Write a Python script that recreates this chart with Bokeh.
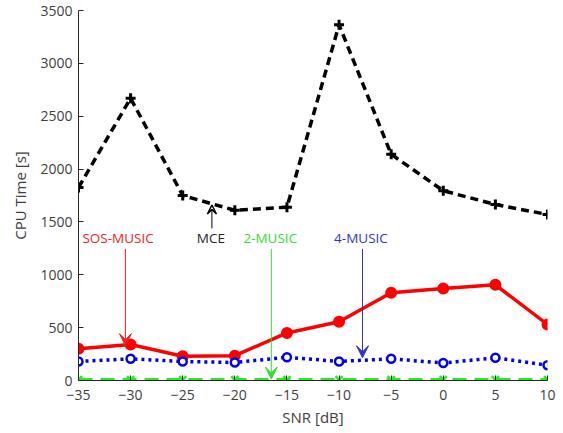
from bokeh.plotting import figure
from bokeh.models import Range1d, Arrow, VeeHead, Label, FixedTicker
from bokeh.embed import file_html
from bokeh.resources import INLINE

snr = [-35, -30, -25, -20, -15, -10, -5, 0, 5, 10]
mce = [1825, 2670, 1750, 1610, 1640, 3365, 2140, 1795, 1665, 1570]
sos_music = [300, 340, 230, 235, 450, 555, 830, 870, 905, 530]
music4 = [180, 205, 180, 170, 220, 180, 205, 165, 215, 145]
music2 = [8, 8, 8, 8, 8, 8, 8, 8, 8, 8]

x_ticks = [-35, -30, -25, -20, -15, -10, -5, 0, 5, 10]
y_ticks = [0, 500, 1000, 1500, 2000, 2500, 3000, 3500]

FONT = "Open Sans"

p = figure(width=558, height=431, output_backend="svg", toolbar_location=None,
           x_range=Range1d(-35, 10), y_range=Range1d(0, 3500),
           min_border_left=78, min_border_right=11, min_border_top=10, min_border_bottom=51)
p.outline_line_color = None
p.xgrid.visible = False
p.ygrid.visible = False

for ax in (p.xaxis[0], p.yaxis[0]):
    ax.major_tick_in = 5
    ax.major_tick_out = 0
    ax.minor_tick_line_color = None
    ax.axis_line_color = "#262626"
    ax.major_tick_line_color = "#262626"
    ax.major_label_text_font = FONT
    ax.major_label_text_font_size = "14px"
    ax.major_label_text_color = "#404040"
    ax.axis_label_text_font = FONT
    ax.axis_label_text_font_size = "15px"
    ax.axis_label_text_font_style = "normal"
    ax.axis_label_text_color = "#404040"

p.xaxis.ticker = FixedTicker(ticks=x_ticks)
p.yaxis.ticker = FixedTicker(ticks=y_ticks)
p.xaxis.axis_label = "SNR [dB]"
p.yaxis.axis_label = "CPU Time [s]"
p.xaxis.major_label_standoff = 9
p.yaxis.major_label_standoff = 6
p.xaxis.axis_label_standoff = 4
p.yaxis.axis_label_standoff = 7

# MCE
p.line(snr, mce, line_color="black", line_width=3.5, line_dash="8 5")
p.scatter(snr, mce, marker="cross", size=10, line_color="black", line_width=3)

# SOS-MUSIC
p.line(snr, sos_music, line_color="#ff0000", line_width=3.5)
p.scatter(snr, sos_music, marker="circle", size=10, fill_color="#ff0000", line_color="#ff0000", line_width=2)

# 4-MUSIC
p.line(snr, music4, line_color="#0000ee", line_width=3.5, line_dash="3 4")
p.scatter(snr, music4, marker="circle", size=8, fill_color="white", line_color="#0000ee", line_width=2.5)

# 2-MUSIC
p.line(snr, music2, line_color="#22ee22", line_width=3.5, line_dash="14 8")
p.scatter(snr, music2, marker="x", size=10, line_color="#22ee22", line_width=2.5)

# annotations
ann = [
    ("SOS-MUSIC", "#ee2222", -31.2, -30.5, 1245, 330),
    ("2-MUSIC", "#33dd33", -16.6, -16.5, 1245, 15),
    ("4-MUSIC", "#3333cc", -7.9, -7.75, 1245, 215),
]
for txt, col, tx, ax_, y0, y1 in ann:
    p.add_layout(Label(x=tx, y=1350, text=txt, text_color=col, text_font=FONT,
                       text_font_size="13.5px", text_align="center", text_baseline="middle"))
    p.add_layout(Arrow(x_start=ax_, y_start=y0, x_end=ax_, y_end=y1, line_color=col, line_width=1,
                       end=VeeHead(size=12, line_color=col, fill_color=col, line_width=1)))

p.add_layout(Label(x=-22.3, y=1350, text="MCE", text_color="#262626", text_font=FONT,
                   text_font_size="13.5px", text_align="center", text_baseline="middle"))
p.add_layout(Arrow(x_start=-22.2, y_start=1440, x_end=-22.2, y_end=1660, line_color="black", line_width=1,
                   end=VeeHead(size=9, line_color="black", fill_color="white", line_width=1.5)))

open("out.html", "w").write(file_html(p, INLINE))
